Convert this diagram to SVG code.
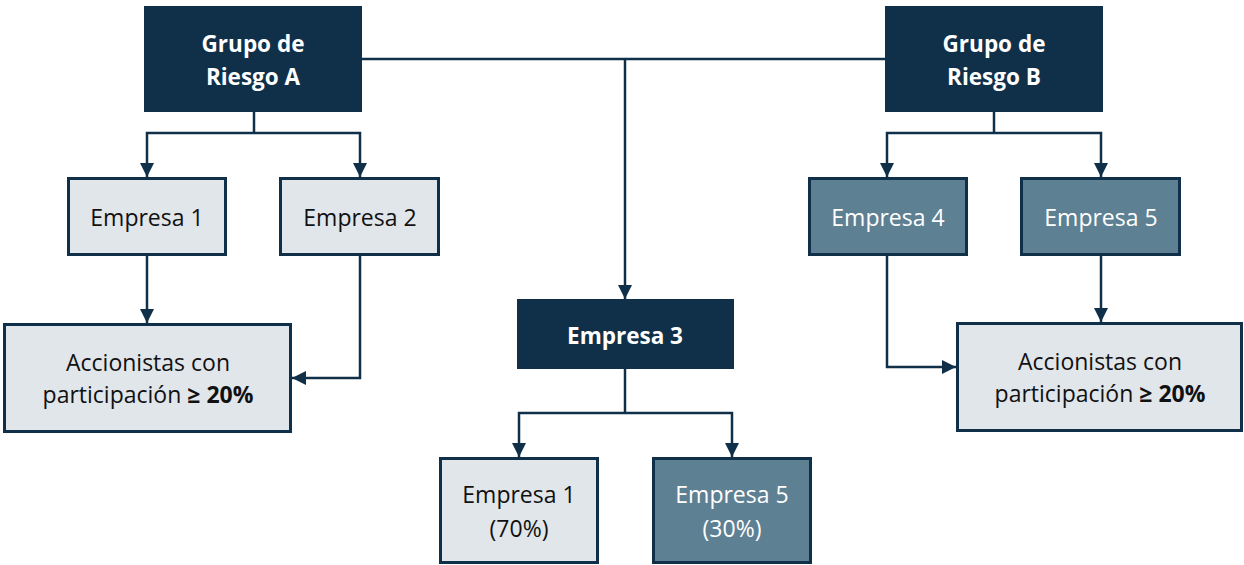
<svg xmlns="http://www.w3.org/2000/svg" width="1244" height="565" viewBox="0 0 1244 565">
<defs>
<style>
.dark{fill:#10304a}
.light{fill:#e1e6eb;stroke:#10304a;stroke-width:3}
.mid{fill:#5e8093;stroke:#10304a;stroke-width:3}
.conn{fill:none;stroke:#10304a;stroke-width:2.5}
text{font-family:"Open Sans","Liberation Sans",sans-serif;font-size:23px;text-anchor:middle}
.hw{fill:#ffffff;font-weight:700;font-size:22.5px}
.tb{fill:#111111}
.tw{fill:#ffffff}
.b{font-weight:700}
</style>
<marker id="ah" markerUnits="userSpaceOnUse" markerWidth="16" markerHeight="16" viewBox="0 0 16 16" refX="14" refY="8" orient="auto">
<path d="M0,1 L14,8 L0,15 Z" fill="#10304a"/>
</marker>
</defs>
<rect width="1244" height="565" fill="#ffffff"/>
<g id="connectors">
<path class="conn" d="M362,59 H885"/>
<path class="conn" d="M625,59 V299" marker-end="url(#ah)"/>
<path class="conn" d="M254,112 V133"/>
<path class="conn" d="M254,133 H147 V177" marker-end="url(#ah)"/>
<path class="conn" d="M254,133 H360 V177" marker-end="url(#ah)"/>
<path class="conn" d="M147,256 V323" marker-end="url(#ah)"/>
<path class="conn" d="M360,256 V378 H292" marker-end="url(#ah)"/>
<path class="conn" d="M994,112 V133"/>
<path class="conn" d="M994,133 H887 V177" marker-end="url(#ah)"/>
<path class="conn" d="M994,133 H1101 V177" marker-end="url(#ah)"/>
<path class="conn" d="M887,256 V367 H956" marker-end="url(#ah)"/>
<path class="conn" d="M1101,256 V322" marker-end="url(#ah)"/>
<path class="conn" d="M625,369 V413"/>
<path class="conn" d="M625,413 H519 V457" marker-end="url(#ah)"/>
<path class="conn" d="M625,413 H732 V457" marker-end="url(#ah)"/>
</g>
<g id="grupoA">
<rect class="dark" x="144" y="6" width="218" height="106"/>
<text class="hw" x="253" y="52">Grupo de</text>
<text class="hw" x="253" y="85">Riesgo A</text>
</g>
<g id="grupoB">
<rect class="dark" x="885" y="6" width="218" height="106"/>
<text class="hw" x="994" y="52">Grupo de</text>
<text class="hw" x="994" y="85">Riesgo B</text>
</g>
<g id="empresa1">
<rect class="light" x="68.5" y="178.5" width="157" height="76"/>
<text class="tb" x="147" y="226">Empresa 1</text>
</g>
<g id="empresa2">
<rect class="light" x="280.5" y="178.5" width="158" height="76"/>
<text class="tb" x="360" y="226">Empresa 2</text>
</g>
<g id="empresa4">
<rect class="mid" x="809.5" y="178.5" width="157" height="76"/>
<text class="tw" x="888" y="226">Empresa 4</text>
</g>
<g id="empresa5">
<rect class="mid" x="1021.5" y="178.5" width="158" height="76"/>
<text class="tw" x="1101" y="226">Empresa 5</text>
</g>
<g id="accionistasA">
<rect class="light" x="4.5" y="324.5" width="286" height="107"/>
<text class="tb" x="148" y="371">Accionistas con</text>
<text class="tb" x="148" y="403">participación <tspan class="b">≥ 20%</tspan></text>
</g>
<g id="accionistasB">
<rect class="light" x="957.5" y="323.5" width="284" height="107"/>
<text class="tb" x="1100" y="370">Accionistas con</text>
<text class="tb" x="1100" y="402">participación <tspan class="b">≥ 20%</tspan></text>
</g>
<g id="empresa3">
<rect class="dark" x="517" y="299" width="217" height="70"/>
<text class="hw" x="625" y="344">Empresa 3</text>
</g>
<g id="empresa1b">
<rect class="light" x="440.5" y="458.5" width="157" height="104"/>
<text class="tb" x="519" y="503">Empresa 1</text>
<text class="tb" x="519" y="537">(70%)</text>
</g>
<g id="empresa5b">
<rect class="mid" x="653.5" y="458.5" width="157" height="104"/>
<text class="tw" x="732" y="503">Empresa 5</text>
<text class="tw" x="732" y="537">(30%)</text>
</g>
</svg>
